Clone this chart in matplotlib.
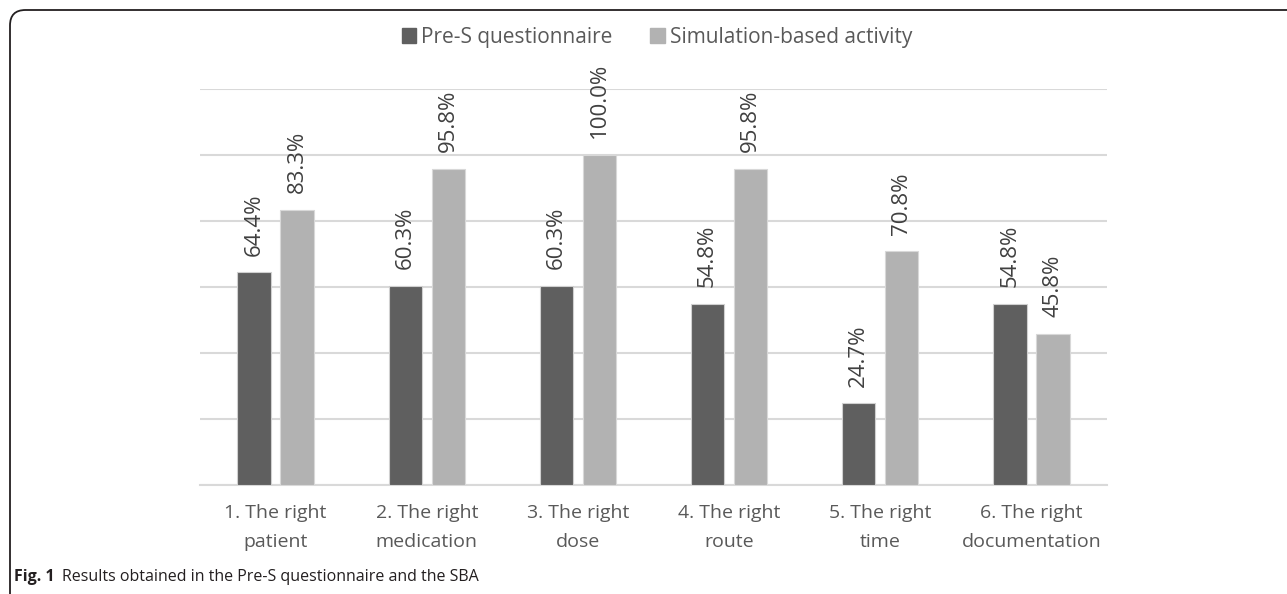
import matplotlib
matplotlib.use("Agg")
import matplotlib.pyplot as plt
import numpy as np
from matplotlib.patches import FancyBboxPatch, Rectangle

categories = ["1. The right\npatient", "2. The right\nmedication", "3. The right\ndose",
              "4. The right\nroute", "5. The right\ntime", "6. The right\ndocumentation"]
pre_s = [64.4, 60.3, 60.3, 54.8, 24.7, 54.8]
sba = [83.3, 95.8, 100.0, 95.8, 70.8, 45.8]
series_names = ["Pre-S questionnaire", "Simulation-based activity"]

plt.rcParams['font.family'] = ['Open Sans', 'DejaVu Sans']
W, H = 1287, 594
fig = plt.figure(figsize=(W/100, H/100), dpi=100)

# plot area in pixels: x 200..1107, y 89..485
ax = fig.add_axes([200/W, 1-485/H, (1107-200)/W, (485-89)/H])
x = np.arange(len(categories))
bw = 0.22
off = 0.142
dark = "#5f5f5f"
light = "#b2b2b2"
b1 = ax.bar(x - off, pre_s, bw, color=dark, edgecolor="#d0d0d0", linewidth=0.8, zorder=3)
b2 = ax.bar(x + off, sba, bw, color=light, edgecolor="#d8d8d8", linewidth=0.8, zorder=3)
ax.set_xlim(-0.5, len(categories) - 0.5)
ax.set_ylim(0, 120)
ax.set_yticks(np.arange(0, 121, 20))
ax.yaxis.grid(True, color="#d9d9d9", linewidth=1.5, zorder=0)
ax.set_yticklabels([])
ax.tick_params(axis='y', length=0)
ax.tick_params(axis='x', length=0, pad=14)
ax.set_xticks(x)
ax.set_xticklabels(categories, fontsize=14, color="#595959", linespacing=1.75)
for s in ["top", "right", "left"]:
    ax.spines[s].set_visible(False)
ax.spines["bottom"].set_color("#d9d9d9")
ax.spines["bottom"].set_linewidth(1.5)

for bars, vals in ((b1, pre_s), (b2, sba)):
    for r, v in zip(bars, vals):
        ax.annotate(f"{v:.1f}%", (r.get_x() + r.get_width()/2, v), xytext=(0, 12),
                    textcoords="offset points", rotation=90, ha="center", va="bottom",
                    fontsize=16, color="#404040")

leg = fig.legend([Rectangle((0, 0), 1, 1, color=dark), Rectangle((0, 0), 1, 1, color=light)],
                 series_names, loc="center", bbox_to_anchor=(657/W, 1-37/H), ncol=2,
                 frameon=False, fontsize=15, handlelength=0.7, handleheight=0.7,
                 handletextpad=0.25, columnspacing=1.8, borderaxespad=0)
for t in leg.get_texts():
    t.set_color("#595959")

# rounded border
border = FancyBboxPatch((10/W, -20/H), (W + 30 - 10)/W, (H - 10 + 20)/H,
                        boxstyle="round,pad=0,rounding_size=0.012",
                        transform=fig.transFigure, fill=False, edgecolor="#231f20",
                        linewidth=1.3, mutation_aspect=W/H)
fig.patches.append(border)

fig.text(14/W, 1-577/H, "Fig. 1", fontsize=11.5, fontweight="bold", color="#231f20",
         va="center", ha="left")
fig.text(62/W, 1-577/H, "Results obtained in the Pre-S questionnaire and the SBA",
         fontsize=11.5, color="#231f20", va="center", ha="left")

fig.savefig("out.png", dpi=100)
